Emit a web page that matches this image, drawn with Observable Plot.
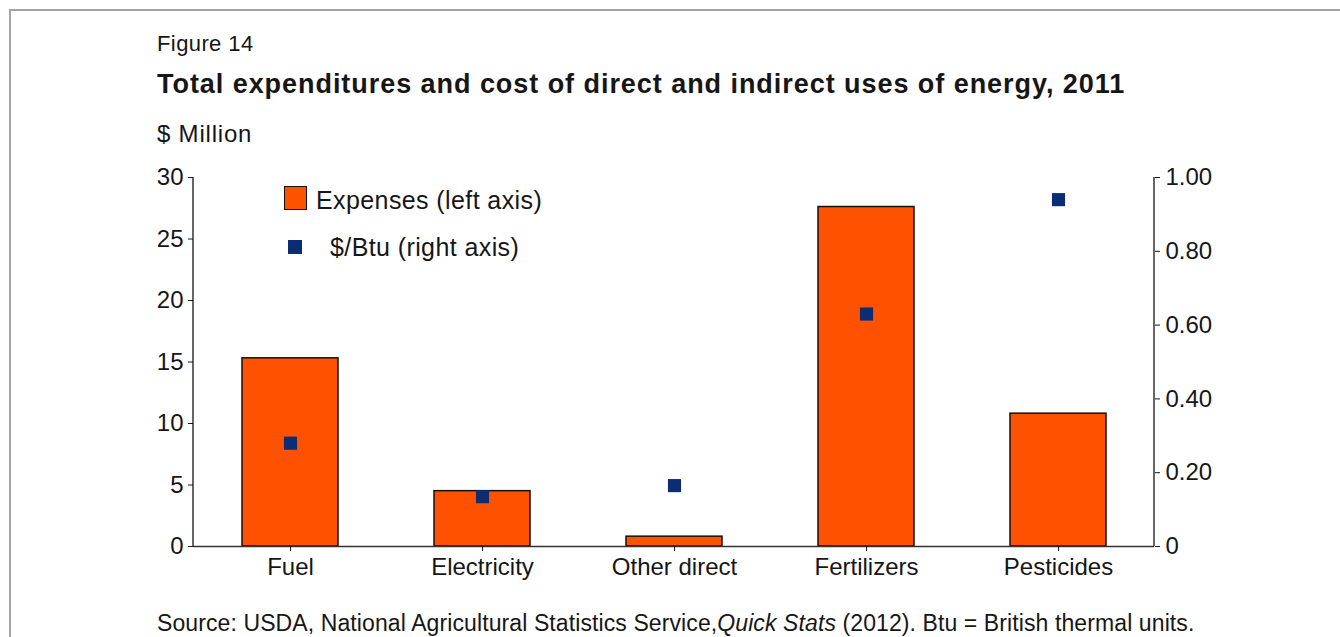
<!DOCTYPE html>
<html>
<head>
<meta charset="utf-8">
<script src="https://cdn.jsdelivr.net/npm/d3@7"></script>
<script src="https://cdn.jsdelivr.net/npm/@observablehq/plot@0.6"></script>
<style>
  html, body { margin: 0; padding: 0; background: #fff; }
  body {
    width: 1340px; height: 637px; overflow: hidden; position: relative;
    font-family: "Liberation Sans", Arial, Helvetica, sans-serif; color: #161616;
  }
  #frame { position: absolute; left: 9px; top: 9px; width: 1400px; height: 700px;
           border: 2px solid #a3a3a3; box-sizing: border-box; }
  .t { position: absolute; left: 157px; line-height: 1; white-space: nowrap; }
  #fig { top: 33px; font-size: 22px; letter-spacing: 0.4px; }
  #title { top: 71px; font-size: 27px; font-weight: bold; letter-spacing: 0.95px; }
  #unit { top: 122px; font-size: 24px; letter-spacing: 0.8px; }
  #source { top: 612px; font-size: 23px; letter-spacing: 0.1px; }
  #chart { position: absolute; left: 0; top: 150px; }
  .legend-item { position: absolute; line-height: 1; white-space: nowrap; font-size: 25px; letter-spacing: 0.4px; }
  .swatch { position: absolute; box-sizing: border-box; }
</style>
</head>
<body>
<div id="frame"></div>
<div class="t" id="fig">Figure 14</div>
<div class="t" id="title">Total expenditures and cost of direct and indirect uses of energy, 2011</div>
<div class="t" id="unit">$ Million</div>
<div id="chart"></div>
<div class="swatch" style="left:284px;top:186px;width:23px;height:24px;background:#ff5200;border:1.5px solid #111;"></div>
<div class="legend-item" style="left:316px;top:188px;">Expenses (left axis)</div>
<div class="swatch" style="left:288px;top:240px;width:14px;height:14px;background:#0c2c74;"></div>
<div class="legend-item" style="left:330px;top:235px;">$/Btu (right axis)</div>
<div class="t" id="source">Source: USDA, National Agricultural Statistics Service,<i>Quick Stats</i> (2012). Btu = British thermal units.</div>

<script>
// Energy-use categories and their 2011 values
const categories = ["Fuel", "Electricity", "Other direct", "Fertilizers", "Pesticides"];
const expenses = [15.3, 4.5, 0.8, 27.6, 10.8];          // $ million (left axis)
const costPerBtu = [0.28, 0.135, 0.165, 0.63, 0.94];    // $/Btu (right axis)
const leftTicks = [0, 5, 10, 15, 20, 25, 30];
const rightTicks = [0, 0.2, 0.4, 0.6, 0.8, 1.0];

const leftMax = 30, rightMax = 1.0;
const toLeft = v => v * leftMax / rightMax;   // right-axis units -> left-axis units

const rows = categories.map((c, i) => ({category: c, expenses: expenses[i], btu: costPerBtu[i]}));

const barColor = "#ff5200";
const dotColor = "#0c2c74";
const ink = "#161616";

// vertical axis lines at both edges of the plot area
const sideLines = (index, scales, values, dims) => {
  const g = d3.create("svg:g").attr("stroke", "#333").attr("stroke-width", 1.5);
  const y0 = scales.y(0), y1 = scales.y(leftMax);
  const xl = dims.marginLeft, xr = dims.width - dims.marginRight;
  g.append("line").attr("x1", xl).attr("x2", xl).attr("y1", y0).attr("y2", y1);
  g.append("line").attr("x1", xr).attr("x2", xr).attr("y1", y0).attr("y2", y1);
  return g.node();
};

const chart = Plot.plot({
  width: 1340,
  height: 440,
  marginLeft: 193,
  marginRight: 186,
  marginTop: 27,
  marginBottom: 44,
  style: {fontFamily: '"Liberation Sans", Arial, sans-serif', color: ink, background: "transparent"},
  x: {domain: categories, paddingInner: 0.5, paddingOuter: 0.25, label: null},
  y: {domain: [0, leftMax], label: null},
  marks: [
    Plot.barY(rows, {x: "category", y: "expenses", fill: barColor, stroke: "#111", strokeWidth: 1.5}),
    Plot.ruleY([0], {stroke: "#333", strokeWidth: 1.5}),
    sideLines,
    Plot.dot(rows, {x: "category", y: d => toLeft(d.btu), symbol: "square", r: 7.4, fill: dotColor}),
    Plot.axisX({tickSize: 5, tickPadding: 6, fontSize: 24, label: null}),
    Plot.axisY(leftTicks, {anchor: "left", tickSize: 5, tickPadding: 5, fontSize: 24, label: null}),
    Plot.axisY(rightTicks.map(toLeft), {
      anchor: "right", tickSize: 5, tickPadding: 6, fontSize: 24, label: null,
      tickFormat: v => v === 0 ? "0" : (v * rightMax / leftMax).toFixed(2)
    })
  ]
});

document.getElementById("chart").appendChild(chart);
</script>
</body>
</html>
